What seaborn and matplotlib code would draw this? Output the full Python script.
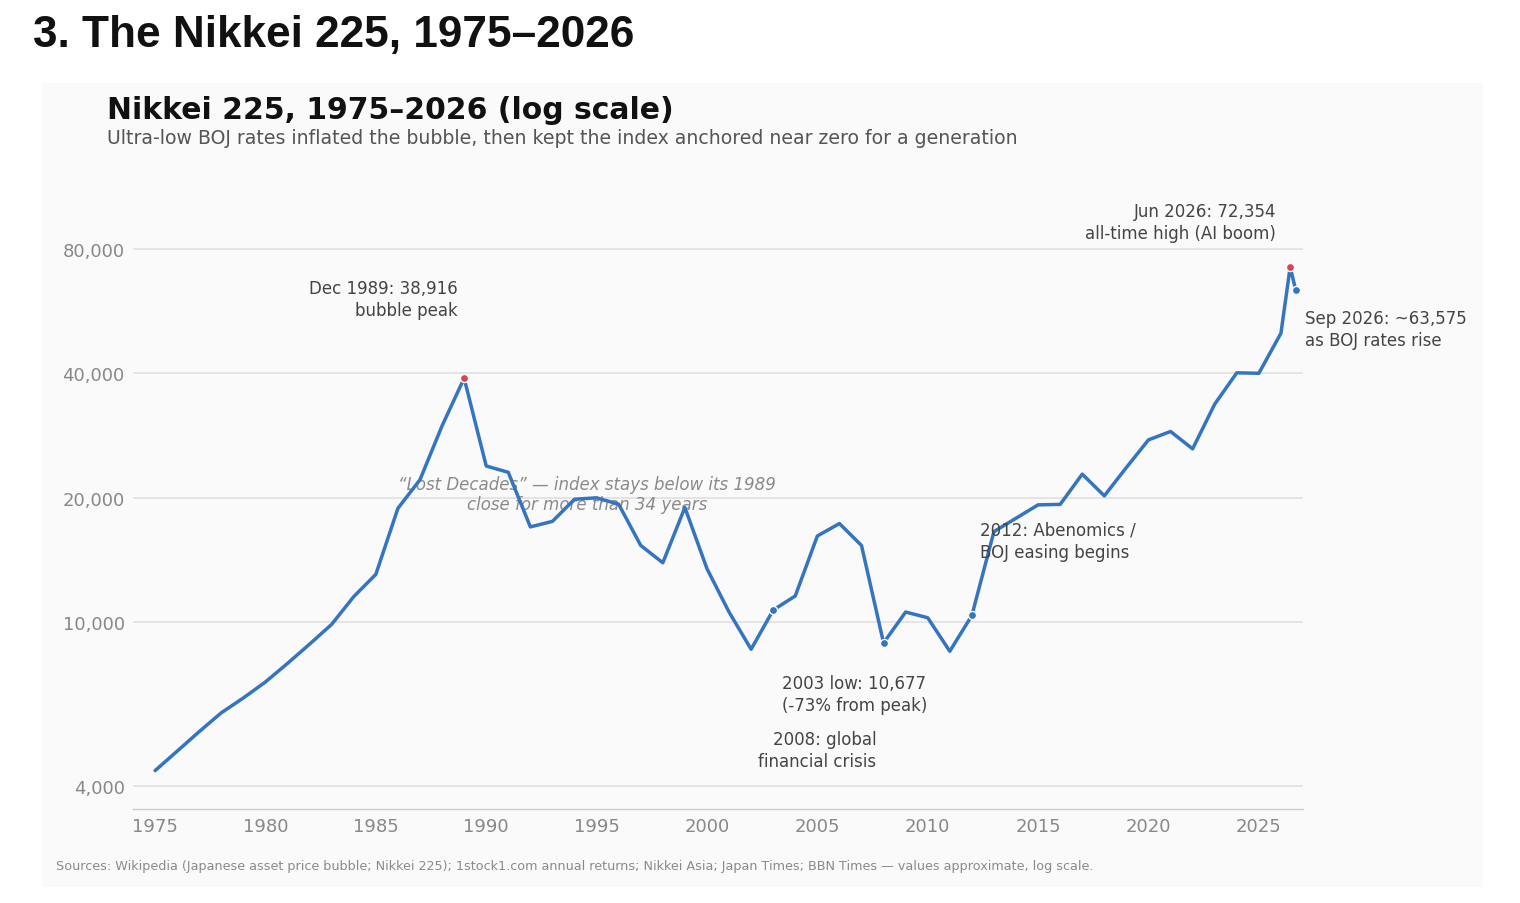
import numpy as np
import pandas as pd
import matplotlib
matplotlib.use('Agg')
import matplotlib.pyplot as plt
import seaborn as sns
from matplotlib.patches import Rectangle
from matplotlib.ticker import FixedLocator, NullLocator, FuncFormatter

# values (year-end closes, plus Jun / Sep 2026)
years = [1975, 1976, 1977, 1978, 1979, 1980, 1981, 1982, 1983, 1984,
         1985, 1986, 1987, 1988, 1989, 1990, 1991, 1992, 1993, 1994,
         1995, 1996, 1997, 1998, 1999, 2000, 2001, 2002, 2003, 2004,
         2005, 2006, 2007, 2008, 2009, 2010, 2011, 2012, 2013, 2014,
         2015, 2016, 2017, 2018, 2019, 2020, 2021, 2022, 2023, 2024,
         2025, 2026, 2026.42, 2026.67]
closes = [4360, 4860, 5420, 6020, 6540, 7150, 7930, 8830, 9860, 11510,
          13030, 18830, 22090, 29830, 38916, 23850, 23020, 16980, 17510, 19810,
          19970, 19270, 15310, 13900, 18920, 13450, 10560, 8580, 10677, 11550,
          16140, 17300, 15310, 8890, 10560, 10230, 8485, 10360, 16540, 17820,
          19200, 19250, 22790, 20190, 23650, 27590, 28910, 26240, 33670, 40100,
          40000, 50000, 72354, 63575]

peak_years = [1989, 2026.42]
peak_values = [38916, 72354]
event_years = [2003, 2008, 2012, 2026.67]
event_values = [10677, 8890, 10360, 63575]

y_ticks = [4000, 10000, 20000, 40000, 80000]
x_ticks = [1975, 1980, 1985, 1990, 1995, 2000, 2005, 2010, 2015, 2020, 2025]

BLUE = '#3474c0'
RED = '#d9434d'
PANEL = '#fafafa'

sns.set_theme(style='white')
plt.rcParams['font.family'] = ['DejaVu Sans']

W, H = 1520, 904
fig = plt.figure(figsize=(W / 100, H / 100), dpi=100)
fig.patch.set_facecolor('white')

# light card behind the chart
fig.patches.append(Rectangle((42 / W, 1 - 888 / H), (1483 - 42) / W, (888 - 84) / H,
                             transform=fig.transFigure, facecolor=PANEL,
                             edgecolor='none', zorder=-5))

ax = fig.add_axes([133 / W, (H - 810) / H, (1303 - 133) / W, 600 / H])
ax.set_facecolor(PANEL)

df = pd.DataFrame({'year': years, 'close': closes})
sns.lineplot(data=df, x='year', y='close', ax=ax, color=BLUE, linewidth=2.5, zorder=3)

pk = pd.DataFrame({'year': peak_years, 'close': peak_values})
ev = pd.DataFrame({'year': event_years, 'close': event_values})
sns.scatterplot(data=pk, x='year', y='close', ax=ax, color=RED, s=34,
                edgecolor=PANEL, linewidth=1.0, zorder=4)
sns.scatterplot(data=ev, x='year', y='close', ax=ax, color=BLUE, s=34,
                edgecolor=PANEL, linewidth=1.0, zorder=4)

ax.set_yscale('log')
ax.set_ylim(3520, 100000)
ax.set_xlim(1974, 2027)
ax.yaxis.set_major_locator(FixedLocator(y_ticks))
ax.yaxis.set_minor_locator(NullLocator())
ax.yaxis.set_major_formatter(FuncFormatter(lambda v, p: f'{v:,.0f}'))
ax.xaxis.set_major_locator(FixedLocator(x_ticks))
ax.set_xlabel('')
ax.set_ylabel('')
ax.grid(axis='y', color='#e0e0e0', linewidth=1.2)
ax.grid(axis='x', visible=False)
for s in ['left', 'top', 'right']:
    ax.spines[s].set_visible(False)
ax.spines['bottom'].set_color('#cccccc')
ax.spines['bottom'].set_linewidth(1.0)
ax.tick_params(axis='both', length=0, labelsize=13, colors='#888888')
ax.tick_params(axis='y', pad=6)
ax.tick_params(axis='x', pad=6)

note = dict(textcoords='offset pixels', fontsize=12, color='#444444',
            va='center', linespacing=1.32)
ax.annotate('Dec 1989: 38,916\nbubble peak', xy=(1989, 38916), xytext=(-6, 79), ha='right', **note)
ax.annotate('Jun 2026: 72,354\nall-time high (AI boom)', xy=(2026.42, 72354), xytext=(-14, 45), ha='right', **note)
ax.annotate('Sep 2026: ~63,575\nas BOJ rates rise', xy=(2026.67, 63575), xytext=(9, -39), ha='left', **note)
ax.annotate('2012: Abenomics /\nBOJ easing begins', xy=(2012, 10360), xytext=(8, 75), ha='left', **note)
ax.annotate('2003 low: 10,677\n(-73% from peak)', xy=(2003, 10677), xytext=(9, -84), ha='left', **note)
ax.annotate('2008: global\nfinancial crisis', xy=(2008, 8890), xytext=(-7, -107), ha='right', **note)

ax.text(1994.55, 20400, '\u201cLost Decades\u201d \u2014 index stays below its 1989\nclose for more than 34 years',
        ha='center', va='center', fontsize=12, style='italic', color='#8a8a8a',
        linespacing=1.08, zorder=2)

fig.text(33 / W, 1 - 36 / H, '3. The Nikkei 225, 1975\u20132026', family=['Liberation Sans', 'DejaVu Sans'],
         fontsize=31.8, fontweight='bold', color='#111111', va='center', ha='left')
fig.text(107 / W, 1 - 111 / H, 'Nikkei 225, 1975\u20132026 (log scale)', fontsize=21.5,
         fontweight='bold', color='#111111', va='center', ha='left')
fig.text(107 / W, 1 - 138 / H,
         'Ultra-low BOJ rates inflated the bubble, then kept the index anchored near zero for a generation',
         fontsize=13.6, color='#555555', va='center', ha='left')
fig.text(56 / W, 1 - 867 / H,
         'Sources: Wikipedia (Japanese asset price bubble; Nikkei 225); 1stock1.com annual returns; '
         'Nikkei Asia; Japan Times; BBN Times \u2014 values approximate, log scale.',
         fontsize=9.2, color='#8a8a8a', va='center', ha='left')

fig.savefig('out.png', dpi=100, facecolor='white')
